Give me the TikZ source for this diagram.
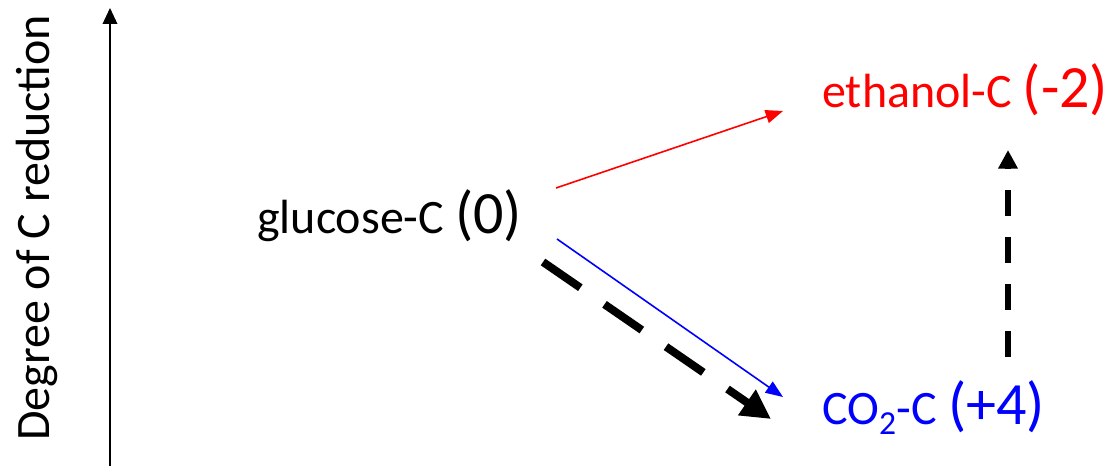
\documentclass[tikz,border=0pt]{standalone}
\usepackage{fontspec}
\setmainfont{Carlito}
\usetikzlibrary{arrows.meta}
\begin{document}
\begin{tikzpicture}[x=0.75pt,y=-0.75pt,
  lbl/.style={inner sep=0pt,anchor=base west,font=\fontsize{36}{40}\selectfont},
  thinarrow/.style={line width=1.2pt,-{Triangle[length=13pt,width=10pt]}},
  bigdash/.style={line width=6pt,dash pattern=on 34pt off 22pt,-{Triangle[length=22pt,width=22pt]}},
  vdash/.style={line width=5pt,dash pattern=on 19.5pt off 15.75pt,-{Triangle[length=14pt,width=14pt]}},
  axisarrow/.style={line width=1.1pt,-{Triangle[length=12pt,width=11pt]}}]
\useasboundingbox (0,0) rectangle (1109,466);
\newcommand{\bigp}[1]{{\fontsize{45}{50}\selectfont #1}}
% axis
\coordinate (axb) at (110,466);
\coordinate (axt) at (110,8);
\draw[axisarrow] (axb) -- (axt);
\node[inner sep=0pt,rotate=90,font=\fontsize{36}{40}\selectfont] (axlabel) at (37,228) {Degree of C reduction};
% labels
\node[lbl] (glucose) at (257,234) {glucose-C \bigp{(0)}};
\node[lbl,red] (ethanol) at (822,108) {ethanol-C \bigp{(-2)}};
\node[lbl,blue] (co2) at (822,424) {CO\textsubscript{2}-C \bigp{(+4)}};
% arrow endpoints
\coordinate (rs) at (556,188);
\coordinate (re) at (783,111);
\coordinate (bs) at (557,239);
\coordinate (be) at (783,397);
\coordinate (ks) at (543,262);
\coordinate (ke) at (771,419);
\coordinate (vs) at (1008,357);
\coordinate (ve) at (1008,150);
\draw[thinarrow,red] (rs) -- (re);
\draw[thinarrow,blue] (bs) -- (be);
\draw[bigdash] (ks) -- (ke);
\draw[vdash] (vs) -- (ve);
\end{tikzpicture}
\end{document}
